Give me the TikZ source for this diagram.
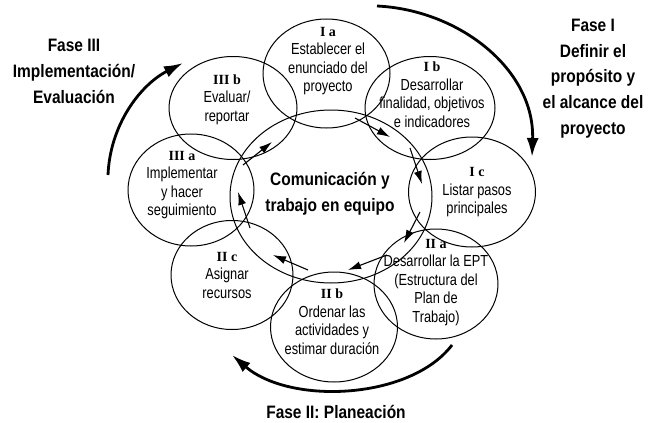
\documentclass[tikz,border=0pt]{standalone}
\usepackage{fontspec}
\usetikzlibrary{shapes.geometric,arrows.meta}
\newfontfamily\bodyf[FakeStretch=0.80]{Liberation Sans}
\newfontfamily\headf[FakeStretch=0.86]{Liberation Sans}
\newfontfamily\labf{Liberation Serif}
\begin{document}
\begin{tikzpicture}[x=1pt,y=-1pt,
  ell/.style={draw,ellipse,line width=1pt,inner sep=0pt},
  bodytext/.style={align=center,font=\bodyf\fontsize{16}{18.5}\selectfont,inner sep=0pt},
  headtext/.style={align=center,font=\headf\bfseries\fontsize{18}{26}\selectfont,inner sep=0pt},
  smallarrow/.style={line width=1.1pt,-{Latex[length=13pt,width=8pt]}},
  bigarrow/.style={line width=2.8pt,-{Latex[length=19pt,width=12pt]}}]
\useasboundingbox (0,0) rectangle (657,423);
\newcommand{\lab}[1]{{\labf\bfseries\fontsize{14}{18.5}\selectfont #1}}
% ellipses
\node[ell,minimum width=202pt,minimum height=173pt] (C) at (331,196.5) {};
\node[ell,minimum width=127pt,minimum height=109pt] (Ia) at (326.5,73.5) {};
\node[ell,minimum width=130pt,minimum height=103pt] (Ib) at (430,108) {};
\node[ell,minimum width=127pt,minimum height=110pt] (Ic) at (472,192) {};
\node[ell,minimum width=124pt,minimum height=110pt] (IIa) at (436,284) {};
\node[ell,minimum width=127pt,minimum height=110pt] (IIb) at (334,327) {};
\node[ell,minimum width=122pt,minimum height=109pt] (IIc) at (232,275) {};
\node[ell,minimum width=126pt,minimum height=112pt] (IIIa) at (191,190) {};
\node[ell,minimum width=128pt,minimum height=103pt] (IIIb) at (233,108) {};
% texts
\node[bodytext] (tIa) at (328,61) {\lab{I a}\\Establecer el\\enunciado del\\proyecto};
\node[bodytext] (tIb) at (432,94.5) {\lab{I b}\\Desarrollar\\finalidad, objetivos\\e indicadores};
\node[bodytext] (tIc) at (477,192.5) {\lab{I c}\\Listar pasos\\principales};
\node[bodytext] (tIIa) at (436,282.5) {\lab{II a}\\Desarrollar la EPT\\(Estructura del\\Plan de\\Trabajo)};
\node[bodytext] (tIIb) at (332,321.5) {\lab{II b}\\Ordenar las\\actividades y\\estimar duración};
\node[bodytext] (tIIc) at (227,275) {\lab{II c}\\Asignar\\recursos};
\node[bodytext] (tIIIa) at (182,185) {\lab{III a}\\Implementar\\y hacer\\seguimiento};
\node[bodytext] (tIIIb) at (227,99.5) {\lab{III b}\\Evaluar/\\reportar};
\node[headtext] (tC) at (330,194) {Comunicación y\\trabajo en equipo};
\node[headtext] (fIII) at (74,71) {Fase III\\Implementación/\\Evaluación};
\node[headtext,font=\headf\bfseries\fontsize{18}{25.7}\selectfont] (fI) at (593,78.5) {Fase I\\Definir el\\propósito y\\el alcance del\\proyecto};
\node[headtext] (fII) at (336,412) {Fase II: Planeación};
% small arrows
\coordinate (a1s) at (355,118); \coordinate (a1e) at (390,137);
\coordinate (a2s) at (410,148); \coordinate (a2e) at (422,184);
\coordinate (a3s) at (420,212); \coordinate (a3e) at (404,243);
\coordinate (a4s) at (387,255); \coordinate (a4e) at (348,270);
\coordinate (a5s) at (308,270); \coordinate (a5e) at (273,255);
\coordinate (a6s) at (250,228); \coordinate (a6e) at (238,192);
\coordinate (a7s) at (243,165); \coordinate (a7e) at (272,142);
\draw[smallarrow] (a1s) -- (a1e);
\draw[smallarrow] (a2s) -- (a2e);
\draw[smallarrow] (a3s) -- (a3e);
\draw[smallarrow] (a4s) -- (a4e);
\draw[smallarrow] (a5s) -- (a5e);
\draw[smallarrow] (a6s) -- (a6e);
\draw[smallarrow] (a7s) -- (a7e);
% big arrows
\coordinate (b1s) at (108,175); \coordinate (b1e) at (183,63);
\coordinate (b2s) at (377,6); \coordinate (b2e) at (532,157);
\coordinate (b3s) at (452,345); \coordinate (b3e) at (232,355);
\draw[bigarrow] (b1s) .. controls (110,125) and (140,85) .. (b1e);
\draw[bigarrow] (b2s) .. controls (460,10) and (535,70) .. (b2e);
\draw[bigarrow] (b3s) .. controls (410,400) and (290,405) .. (b3e);
\end{tikzpicture}
\end{document}
